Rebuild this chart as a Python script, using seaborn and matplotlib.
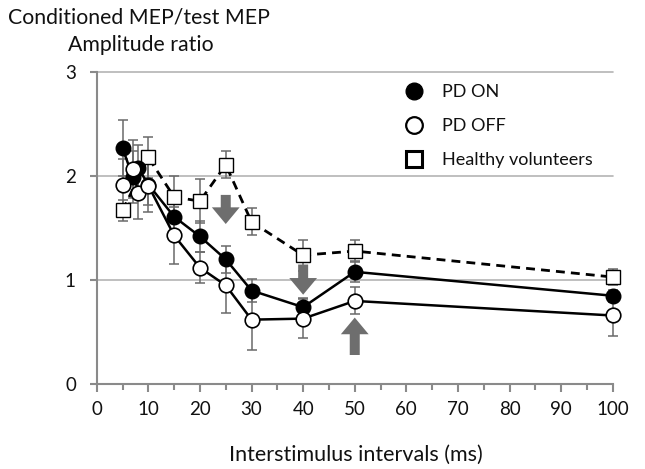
import matplotlib
matplotlib.use("Agg")
import matplotlib.pyplot as plt
import seaborn as sns
import pandas as pd
import numpy as np

# ---- data ----
isi_pd = [5, 7, 8, 10, 15, 20, 25, 30, 40, 50, 100]
pd_on = [2.27, 1.99, 2.08, 1.92, 1.61, 1.42, 1.20, 0.90, 0.74, 1.08, 0.85]
pd_on_err = [0.27, 0.25, 0.22, 0.20, 0.20, 0.15, 0.13, 0.11, 0.09, 0.10, 0.06]
pd_off = [1.92, 2.07, 1.84, 1.91, 1.43, 1.12, 0.95, 0.62, 0.63, 0.80, 0.66]
pd_off_err = [0.25, 0.28, 0.25, 0.25, 0.27, 0.15, 0.27, 0.29, 0.19, 0.13, 0.20]
isi_hv = [5, 10, 15, 20, 25, 30, 40, 50, 100]
healthy = [1.67, 2.18, 1.80, 1.76, 2.11, 1.56, 1.24, 1.28, 1.03]
healthy_err = [0.10, 0.20, 0.20, 0.21, 0.13, 0.13, 0.15, 0.11, 0.08]

series_names = ["PD ON", "PD OFF", "Healthy volunteers"]
# arrows: (x, y_tail, y_head)
arrows = [(25, 1.82, 1.54), (40, 1.15, 0.86), (50, 0.28, 0.64)]

xticks = list(range(0, 101, 10))
yticks = [0, 1, 2, 3]

sns.set_theme(style="white")
plt.rcParams["font.family"] = ["Lato", "DejaVu Sans"]

fig = plt.figure(figsize=(6.45, 4.69), dpi=100)
ax = fig.add_axes([0.150, 0.181, 0.800, 0.665])

grid_c = "#b4b4b4"
spine_c = "#8a8a8a"
err_c = "#6a6a6a"
txt_c = "#111111"

for yv in yticks[1:]:
    ax.axhline(yv, color=grid_c, lw=1.2, zorder=0)

df_on = pd.DataFrame({"x": isi_pd, "y": pd_on})
df_off = pd.DataFrame({"x": isi_pd, "y": pd_off})
df_hv = pd.DataFrame({"x": isi_hv, "y": healthy})

# error bars
for xs, ys, es in [(isi_hv, healthy, healthy_err), (isi_pd, pd_on, pd_on_err),
                   (isi_pd, pd_off, pd_off_err)]:
    ax.errorbar(xs, ys, yerr=es, fmt="none", ecolor=err_c,
                elinewidth=1.1, capsize=3.5, capthick=1.1, zorder=2)

sns.lineplot(data=df_hv, x="x", y="y", ax=ax, color="black", lw=2.0,
             linestyle=(0, (3.2, 2.2)), marker="s", markersize=9.5,
             markerfacecolor="white", markeredgecolor="black",
             markeredgewidth=1.0, zorder=3, label=series_names[2])
sns.lineplot(data=df_on, x="x", y="y", ax=ax, color="black", lw=1.8,
             marker="o", markersize=10.5, markerfacecolor="black",
             markeredgecolor="black", markeredgewidth=1.0, zorder=4,
             label=series_names[0])
sns.lineplot(data=df_off, x="x", y="y", ax=ax, color="black", lw=1.8,
             marker="o", markersize=10.5, markerfacecolor="white",
             markeredgecolor="black", markeredgewidth=1.2, zorder=5,
             label=series_names[1])
ax.get_legend().remove()
for art in list(ax.lines) + list(ax.collections):
    art.set_clip_on(False)

# arrows
for ax_x, y0, y1 in arrows:
    ax.annotate("", xy=(ax_x, y1), xytext=(ax_x, y0),
                arrowprops=dict(arrowstyle="simple,head_width=1.25,head_length=0.75,tail_width=0.45",
                                color="#6e6e6e", lw=0, shrinkA=0, shrinkB=0,
                                mutation_scale=16),
                zorder=6)

ax.set_xlim(0, 100)
ax.set_ylim(0, 3)
ax.set_xticks(xticks)
ax.set_xticks(list(range(5, 100, 10)), minor=True)
ax.set_yticks(yticks)
ax.tick_params(axis="both", which="both", direction="out", color=spine_c,
               width=1.5, labelsize=13.5, labelcolor=txt_c)
ax.tick_params(axis="x", which="major", length=6, pad=6)
ax.tick_params(axis="x", which="minor", length=4)
ax.tick_params(axis="y", which="major", length=5, pad=10)
ax.xaxis.set_ticks_position("bottom")
ax.yaxis.set_ticks_position("left")
for s in ["top", "right"]:
    ax.spines[s].set_visible(False)
for s in ["left", "bottom"]:
    ax.spines[s].set_color(spine_c)
    ax.spines[s].set_linewidth(1.5)
ax.set_xlabel("")
ax.set_ylabel("")

fig.text(0.012, 0.963, "Conditioned MEP/test MEP", fontsize=15.3, color=txt_c,
         ha="left", va="center")
fig.text(0.106, 0.903, "Amplitude ratio", fontsize=15.3, color=txt_c,
         ha="left", va="center")
fig.text(0.551, 0.030, "Interstimulus intervals (ms)", fontsize=15.5,
         color=txt_c, ha="center", va="center")

# legend
from matplotlib.lines import Line2D
handles = [
    Line2D([], [], ls="none", marker="o", markersize=12, mfc="black", mec="black"),
    Line2D([], [], ls="none", marker="o", markersize=12, mfc="white", mec="black", mew=1.6),
    Line2D([], [], ls="none", marker="s", markersize=12, mfc="white", mec="black", mew=2.2),
]
leg = ax.legend(handles, series_names, loc="upper left",
                bbox_to_anchor=(0.565, 0.985), frameon=False, fontsize=13,
                labelspacing=1.0, handletextpad=0.55, borderaxespad=0)
for t in leg.get_texts():
    t.set_color(txt_c)

fig.savefig("out.png", dpi=100, facecolor="white")
